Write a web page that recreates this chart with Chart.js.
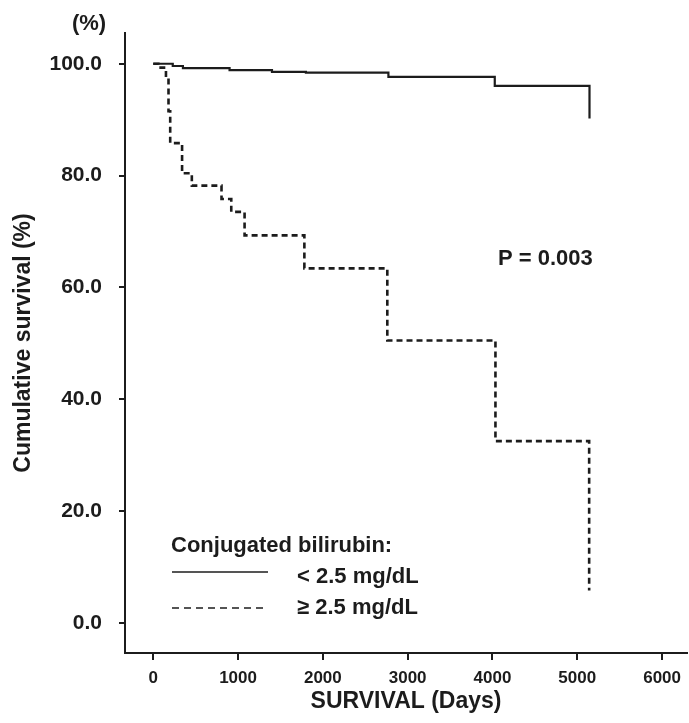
<!DOCTYPE html>
<html>
<head>
<meta charset="utf-8">
<script src="https://cdn.jsdelivr.net/npm/chart.js@4.4.1/dist/chart.umd.min.js"></script>
<style>
  html, body { margin: 0; padding: 0; background: #fff; }
  canvas { display: block; }
</style>
</head>
<body>
<canvas id="c" width="689" height="723"></canvas>
<script>
// ---- data ----
const seriesLabels = ['< 2.5 mg/dL', '\u2265 2.5 mg/dL'];
const legendTitle = 'Conjugated bilirubin:';
const pValueText = 'P = 0.003';
const yUnitText = '(%)';

const solidDays = [0, 230, 350, 900, 1400, 1800, 2773, 4027, 5144];
const solidSurv = [100, 99.6, 99.2, 98.85, 98.55, 98.4, 97.65, 96.05, 90.2];

const dashDays = [0, 60, 150, 180, 200, 340, 455, 805, 920, 1077, 1782, 2760, 4035, 5140];
const dashSurv = [100, 99.3, 97.5, 91.5, 85.8, 80.4, 78.2, 75.8, 73.5, 69.3, 63.4, 50.5, 32.5, 5.8];

const xTicks = [0, 1000, 2000, 3000, 4000, 5000, 6000];
const yTicks = [0, 20, 40, 60, 80, 100];

const FONT = '"Liberation Sans", Arial, Helvetica, sans-serif';
const INK = '#1c1c1c';

const toPoints = (xs, ys) => xs.map((x, i) => ({ x: x, y: ys[i] }));

const annotations = {
  id: 'annotations',
  afterDraw(chart) {
    const ctx = chart.ctx;
    ctx.save();
    ctx.fillStyle = INK;
    ctx.textBaseline = 'alphabetic';
    // unit label
    ctx.font = 'bold 22px ' + FONT;
    ctx.textAlign = 'center';
    ctx.fillText(yUnitText, 89, 30);
    // p value
    ctx.textAlign = 'left';
    ctx.fillText(pValueText, 498, 265);
    // legend
    ctx.fillText(legendTitle, 171, 552);
    ctx.fillText(seriesLabels[0], 297, 583);
    ctx.fillText(seriesLabels[1], 297, 614);
    ctx.strokeStyle = INK;
    ctx.lineWidth = 1.5;
    ctx.beginPath();
    ctx.moveTo(172, 572);
    ctx.lineTo(268, 572);
    ctx.stroke();
    ctx.setLineDash([7, 5]);
    ctx.beginPath();
    ctx.moveTo(172, 608);
    ctx.lineTo(268, 608);
    ctx.stroke();
    ctx.restore();
  }
};

new Chart(document.getElementById('c'), {
  type: 'line',
  data: {
    datasets: [
      {
        label: seriesLabels[0],
        data: toPoints(solidDays, solidSurv),
        borderColor: INK,
        borderWidth: 2.2,
        stepped: true,
        pointRadius: 0,
        fill: false
      },
      {
        label: seriesLabels[1],
        data: toPoints(dashDays, dashSurv),
        borderColor: INK,
        borderWidth: 2.6,
        borderDash: [6, 4],
        stepped: true,
        pointRadius: 0,
        fill: false
      }
    ]
  },
  options: {
    responsive: false,
    animation: false,
    devicePixelRatio: 1,
    layout: { padding: { top: 33, right: 0, left: 0, bottom: 0 } },
    plugins: {
      legend: { display: false },
      tooltip: { enabled: false }
    },
    scales: {
      x: {
        type: 'linear',
        min: -333,
        max: 6295,
        afterBuildTicks: s => { s.ticks = xTicks.map(v => ({ value: v })); },
        afterFit: s => { s.height = 70; },
        grid: { drawOnChartArea: false, drawTicks: true, tickLength: 7, color: INK, lineWidth: 2 },
        border: { display: true, color: INK, width: 2 },
        ticks: {
          color: INK,
          padding: 8,
          maxRotation: 0,
          font: { family: FONT, size: 17, weight: 'bold' },
          callback: v => String(v)
        },
        title: {
          display: true,
          text: 'SURVIVAL (Days)',
          color: INK,
          padding: { top: 0, bottom: 8 },
          font: { family: FONT, size: 23, weight: 'bold' }
        }
      },
      y: {
        type: 'linear',
        min: -5.4,
        max: 105.5,
        afterBuildTicks: s => { s.ticks = yTicks.map(v => ({ value: v })); },
        afterFit: s => { s.width = 125; },
        grid: { drawOnChartArea: false, drawTicks: true, tickLength: 6, color: INK, lineWidth: 2 },
        border: { display: true, color: INK, width: 2 },
        ticks: {
          color: INK,
          padding: 17,
          font: { family: FONT, size: 21, weight: 'bold' },
          callback: v => Number(v).toFixed(1)
        },
        title: {
          display: true,
          text: 'Cumulative survival (%)',
          color: INK,
          padding: { top: 10, bottom: 0 },
          font: { family: FONT, size: 23, weight: 'bold' }
        }
      }
    }
  },
  plugins: [annotations]
});
</script>
</body>
</html>
